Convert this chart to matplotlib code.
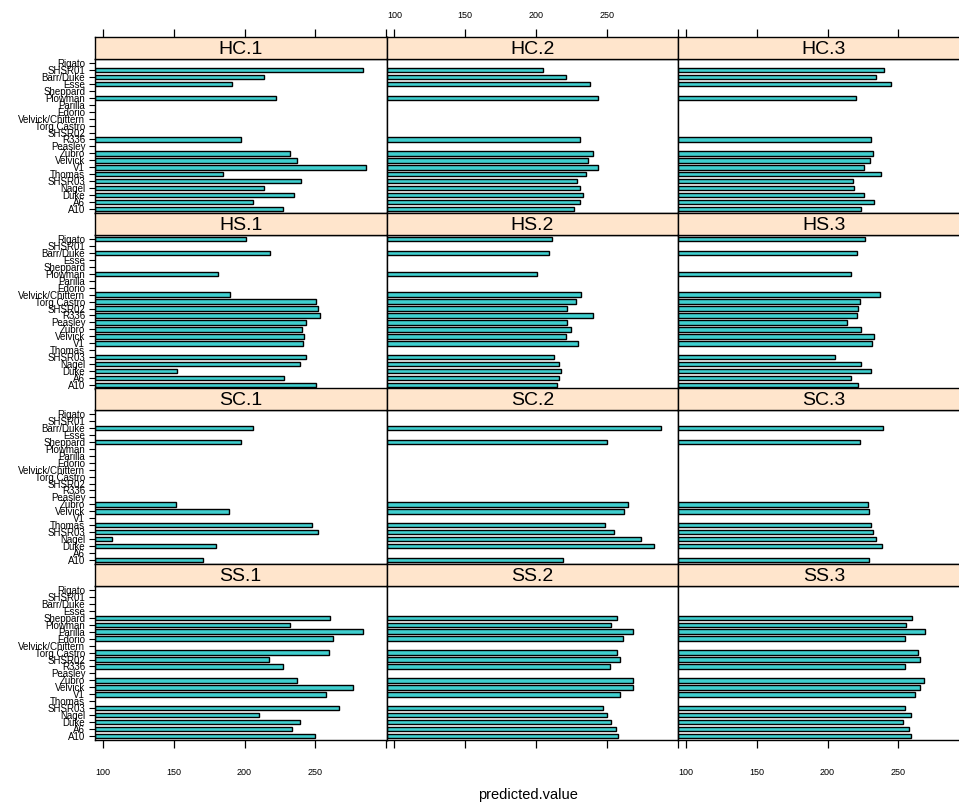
import numpy as np
import matplotlib
matplotlib.use("Agg")
import matplotlib.pyplot as plt

plt.rcParams['font.family'] = ['Liberation Sans', 'DejaVu Sans']

nan = np.nan

# varieties, bottom to top
varieties = ["A10", "A6", "Duke", "Nagel", "SHSR03", "Thomas", "V1", "Velvick",
             "Zubro", "Peasley", "R336", "SHSR02", "Torg Castro", "Velvick/Chittern",
             "Edorio", "Parilla", "Plowman", "Sheppard", "Esse", "Barr/Duke",
             "SHSR01", "Rigato"]

# predicted values per panel, one entry per variety (nan = not tested)
hc1 = [227.5, 206, 234.7, 214, 240, 184.5, 285.6, 236.9, 232.2, nan, 197.2, nan,
       nan, nan, nan, nan, 222.3, nan, 191.5, 214, 283.7, nan]
hc2 = [227, 231, 233, 231, 229, 235, 244, 237, 240, nan, 231, nan,
       nan, nan, nan, nan, 244, nan, 238, 221, 205, nan]
hc3 = [224, 233, 226, 219, 218, 238, 226, 230, 232, nan, 231, nan,
       nan, nan, nan, nan, 220, nan, 245, 234, 240, nan]
hs1 = [250.6, 228, 152, 239, 243.5, nan, 241.4, 242, 240.7, 243.5, 253.5, 252,
       250.6, 189.6, nan, nan, 181, nan, nan, 218, nan, 201]
hs2 = [215, 216.5, 218, 216.5, 213, nan, 230, 221, 224.4, 221.6, 240, 221.6,
       228.6, 231.5, nan, nan, 201, nan, nan, 209.5, nan, 211]
hs3 = [221.4, 216.6, 230.8, 223.6, 205, nan, 231.5, 232.8, 224, 213.7, 220.7, 221.4,
       222.8, 237, nan, nan, 216.6, nan, nan, 221, nan, 226.5]
sc1 = [171, nan, 179.7, 106.7, 252, 247.8, nan, 189, 151.3, nan, nan, nan,
       nan, nan, nan, nan, nan, 197.4, nan, 206, nan, nan]
sc2 = [218.9, nan, 283, 273.9, 254.8, 248.5, nan, 261.9, 264.7, nan, nan, nan,
       nan, nan, nan, nan, nan, 249.9, nan, 288, nan, nan]
sc3 = [229.1, nan, 238.3, 234.1, 232, 230.6, nan, 229.1, 228.4, nan, nan, nan,
       nan, nan, nan, nan, nan, 222.8, nan, 239, nan, nan]
ss1 = [250, 233.3, 239.3, 210.2, 266.8, nan, 257.5, 276.6, 236.9, nan, 227.2, 217,
       259.6, nan, 262.2, 283.8, 232.3, 260.5, nan, nan, nan, nan]
ss2 = [257.7, 256.3, 252.8, 249.9, 247.1, nan, 259.1, 268.3, 268.3, nan, 252.1, 259.1,
       257, nan, 261.2, 268.3, 252.8, 257, nan, nan, nan, nan]
ss3 = [258.8, 257.4, 253.1, 258.8, 254.5, nan, 261.6, 265.1, 267.9, nan, 254.5, 265.1,
       263.7, nan, 254.5, 268.6, 255.2, 259.5, nan, nan, nan, nan]

panel_names = [["HC.1", "HC.2", "HC.3"],
               ["HS.1", "HS.2", "HS.3"],
               ["SC.1", "SC.2", "SC.3"],
               ["SS.1", "SS.2", "SS.3"]]
panel_data = [[hc1, hc2, hc3], [hs1, hs2, hs3], [sc1, sc2, sc3], [ss1, ss2, ss3]]
xticks = [100, 150, 200, 250, 300]
xticklabels = ["100", "150", "200", "250", ""]

# numeric limits shared by all panels
lo, hi = 94.4, 300.3
n = len(varieties)
ypos = np.arange(1, n + 1)

W, H = 959, 810
fig = plt.figure(figsize=(W / 100, H / 100), dpi=100)
fig.patch.set_facecolor("white")

col_x = [95, 386.5, 678]
pw = 291.5
row_top = [59, 235, 410, 586]
ph = 154
sh = 22

bar_fill = "#3FCFCF"
strip_fill = "#FFE5CC"

for r in range(4):
    for c in range(3):
        x0 = col_x[c]
        top = row_top[r]
        ax = fig.add_axes([x0 / W, 1 - (top + ph) / H, pw / W, ph / H])
        st = fig.add_axes([x0 / W, 1 - top / H, pw / W, sh / H])

        vals = np.asarray(panel_data[r][c], float)
        m = ~np.isnan(vals)
        ax.barh(ypos[m], vals[m] - lo, left=lo, height=2 / 3,
                color=bar_fill, edgecolor="black", linewidth=1.0)
        ax.set_xlim(lo, hi)
        ax.set_ylim(0.4, n + 0.6)
        for s in ax.spines.values():
            s.set_linewidth(1.0)

        # y axis: labels on the left column only
        ax.set_yticks(ypos)
        if c == 0:
            ax.set_yticklabels(varieties, fontsize=7)
            ax.tick_params(axis="y", direction="out", length=4, width=0.8, pad=3)
        elif c == 2:
            ax.yaxis.tick_right()
            ax.set_yticklabels([])
            ax.tick_params(axis="y", direction="out", length=4, width=0.8)
        else:
            ax.tick_params(axis="y", length=0, labelleft=False)

        # x axis: bottom row ticks, labels alternate
        ax.set_xticks(xticks)
        ax.set_xticklabels(xticklabels)
        if r == 3:
            ax.tick_params(axis="x", direction="out", length=6, width=0.9,
                           pad=14, labelsize=6.5, labelbottom=(c != 1))
        else:
            ax.tick_params(axis="x", length=0, labelbottom=False)

        # strip
        st.set_facecolor(strip_fill)
        st.set_xlim(lo, hi)
        st.set_ylim(0, 1)
        st.set_yticks([])
        for s in st.spines.values():
            s.set_linewidth(1.0)
        st.text(0.5, 0.45, panel_names[r][c], transform=st.transAxes,
                ha="center", va="center", fontsize=14)
        if r == 0:
            st.xaxis.tick_top()
            st.set_xticks(xticks)
            st.set_xticklabels(xticklabels)
            st.tick_params(axis="x", direction="out", length=6, width=0.9,
                           pad=6, labelsize=6.5, labeltop=(c == 1))
        else:
            st.set_xticks([])

fig.text(528 / W, 1 - 795 / H, "predicted.value", ha="center", va="center",
         fontsize=10.5)

fig.savefig("out.png", dpi=100, facecolor="white")
